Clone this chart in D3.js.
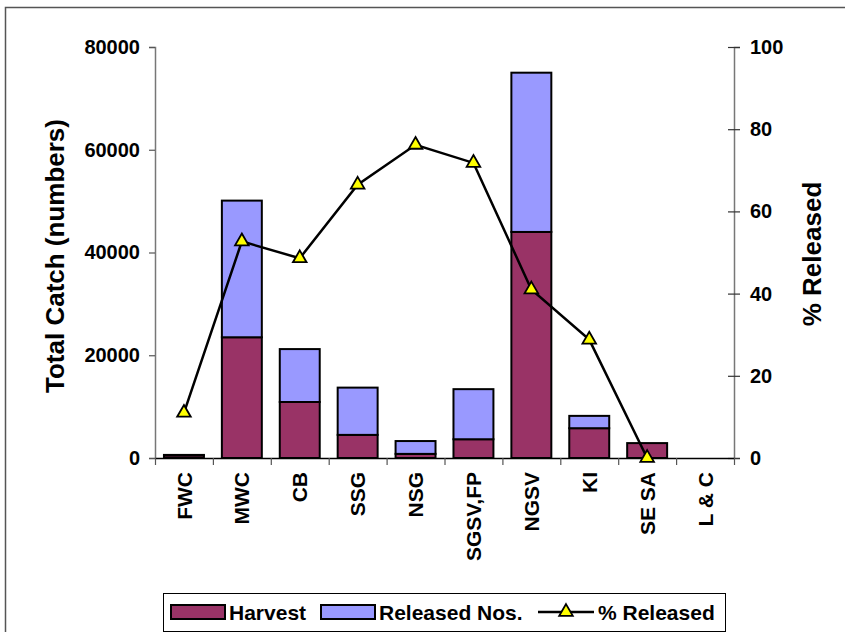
<!DOCTYPE html>
<html><head><meta charset="utf-8">
<script src="https://cdn.jsdelivr.net/npm/d3@7"></script>
<style>
body{margin:0;background:#fff}
text{font-family:"Liberation Sans",Arial,Helvetica,sans-serif;font-weight:bold;fill:#000}
</style>
</head><body>
<svg id="c" width="845" height="632"></svg>
<script>
const categories = ["FWC","MWC","CB","SSG","NSG","SGSV,FP","NGSV","KI","SE SA","L & C"];
const harvest    = [500, 23500, 10900, 4500, 800, 3650, 44000, 5800, 2900, 0];
const released   = [100, 26600, 10300, 9200, 2500, 9750, 31000, 2400, 0, 0];
const pctReleased = [11, 52.7, 48.6, 66.5, 76.2, 71.8, 41, 28.8, 0, null];
const leftTicks  = [0, 20000, 40000, 60000, 80000];
const rightTicks = [0, 20, 40, 60, 80, 100];
const seriesNames = ["Harvest", "Released Nos.", "% Released"];
const colors = {harvest: "#993366", released: "#9999FF", marker: "#FFFF00"};

const svg = d3.select("#c");
const L = 155, R = 734, T = 47, B = 458;

// outer chart frame
svg.append("rect").attr("x", 5.5).attr("y", 7.5).attr("width", 900).attr("height", 700)
  .attr("fill", "none").attr("stroke", "#555").attr("stroke-width", 1.5);

const x = d3.scaleBand().domain(categories).range([L, R]).paddingInner(0.31).paddingOuter(0.155);
const xb = d3.scaleLinear().domain([0, categories.length]).range([L, R]);
const yL = d3.scaleLinear().domain([0, 80000]).range([B, T]);
const yR = d3.scaleLinear().domain([0, 100]).range([B, T]);

// stacked bars
const rows = categories.map((c, i) => ({cat: c, harvest: harvest[i], released: released[i]}));
const stack = d3.stack().keys(["harvest", "released"])(rows);
const g = svg.append("g");
stack.forEach(layer => {
  g.selectAll(null).data(layer.filter(d => d[1] - d[0] > 0)).enter().append("rect")
    .attr("x", d => x(d.data.cat))
    .attr("width", x.bandwidth())
    .attr("y", d => yL(d[1]))
    .attr("height", d => yL(d[0]) - yL(d[1]))
    .attr("fill", colors[layer.key])
    .attr("stroke", "#000").attr("stroke-width", 2);
});

// left axis
const axL = svg.append("g").attr("transform", `translate(${L},0)`)
  .call(d3.axisLeft(yL).tickValues(leftTicks).tickFormat(d3.format("d")).tickSize(6).tickPadding(9));
axL.select(".domain").attr("stroke", "#777").attr("stroke-width", 1.5);
axL.selectAll(".tick line").attr("stroke", "#555").attr("stroke-width", 1.2);
axL.selectAll("text").style("font-size", "20px").style("font-family", '"Liberation Sans",Arial,sans-serif').style("font-weight", "bold");

// right axis
const axR = svg.append("g").attr("transform", `translate(${R},0)`)
  .call(d3.axisRight(yR).tickValues(rightTicks).tickSize(6).tickPadding(10));
axR.select(".domain").attr("stroke", "#777").attr("stroke-width", 1.5);
axR.selectAll(".tick line").attr("x1", -6).attr("stroke", "#333").attr("stroke-width", 1.2);
axR.selectAll("text").style("font-size", "20px").style("font-family", '"Liberation Sans",Arial,sans-serif').style("font-weight", "bold");

// bottom axis (category boundaries)
const axB = svg.append("g").attr("transform", `translate(0,${B})`)
  .call(d3.axisBottom(xb).tickValues(d3.range(categories.length + 1)).tickFormat("").tickSize(7).tickSizeOuter(0));
axB.select(".domain").attr("stroke", "#000").attr("stroke-width", 1.5);
axB.selectAll(".tick line").attr("stroke", "#555").attr("stroke-width", 1.2);

// category labels
svg.append("g").selectAll("text").data(categories).enter().append("text")
  .attr("transform", d => `translate(${x(d) + x.bandwidth() / 2},472) rotate(-90)`)
  .attr("text-anchor", "end").attr("dy", "0.36em")
  .style("font-size", "21px").text(d => d);

// % released line
const pts = categories.map((c, i) => ({cat: c, v: pctReleased[i]}));
const line = d3.line().defined(d => d.v != null)
  .x(d => x(d.cat) + x.bandwidth() / 2).y(d => yR(d.v));
svg.append("path").datum(pts).attr("d", line)
  .attr("fill", "none").attr("stroke", "#000").attr("stroke-width", 2.5);
const tri = d3.symbol().type(d3.symbolTriangle).size(80);
svg.append("g").selectAll("path").data(pts.filter(d => d.v != null)).enter().append("path")
  .attr("transform", d => `translate(${x(d.cat) + x.bandwidth() / 2},${yR(d.v)})`)
  .attr("d", tri).attr("fill", colors.marker).attr("stroke", "#000").attr("stroke-width", 1.8);

// axis titles
svg.append("text").attr("transform", "translate(55,256) rotate(-90)")
  .attr("text-anchor", "middle").attr("dy", "0.36em").style("font-size", "26px")
  .text("Total Catch (numbers)");
svg.append("text").attr("transform", "translate(812,254) rotate(-90)")
  .attr("text-anchor", "middle").attr("dy", "0.36em").style("font-size", "26px")
  .text("% Released");

// legend
const lg = svg.append("g");
lg.append("rect").attr("x", 163.5).attr("y", 593.5).attr("width", 562).attr("height", 38)
  .attr("fill", "#fff").attr("stroke", "#000").attr("stroke-width", 1);
const ly = 612;
lg.append("rect").attr("x", 171).attr("y", ly - 7).attr("width", 54).attr("height", 14)
  .attr("fill", colors.harvest).attr("stroke", "#000").attr("stroke-width", 2);
lg.append("text").attr("x", 229).attr("y", ly).attr("dy", "0.36em").style("font-size", "21px").text(seriesNames[0]);
lg.append("rect").attr("x", 321).attr("y", ly - 7).attr("width", 54).attr("height", 14)
  .attr("fill", colors.released).attr("stroke", "#000").attr("stroke-width", 2);
lg.append("text").attr("x", 379).attr("y", ly).attr("dy", "0.36em").style("font-size", "21px").text(seriesNames[1]);
lg.append("line").attr("x1", 538).attr("x2", 594).attr("y1", ly).attr("y2", ly)
  .attr("stroke", "#000").attr("stroke-width", 2.5);
lg.append("path").attr("transform", `translate(566,${ly})`).attr("d", tri)
  .attr("fill", colors.marker).attr("stroke", "#000").attr("stroke-width", 1.8);
lg.append("text").attr("x", 598).attr("y", ly).attr("dy", "0.36em").style("font-size", "21px").text(seriesNames[2]);
</script>
</body></html>
